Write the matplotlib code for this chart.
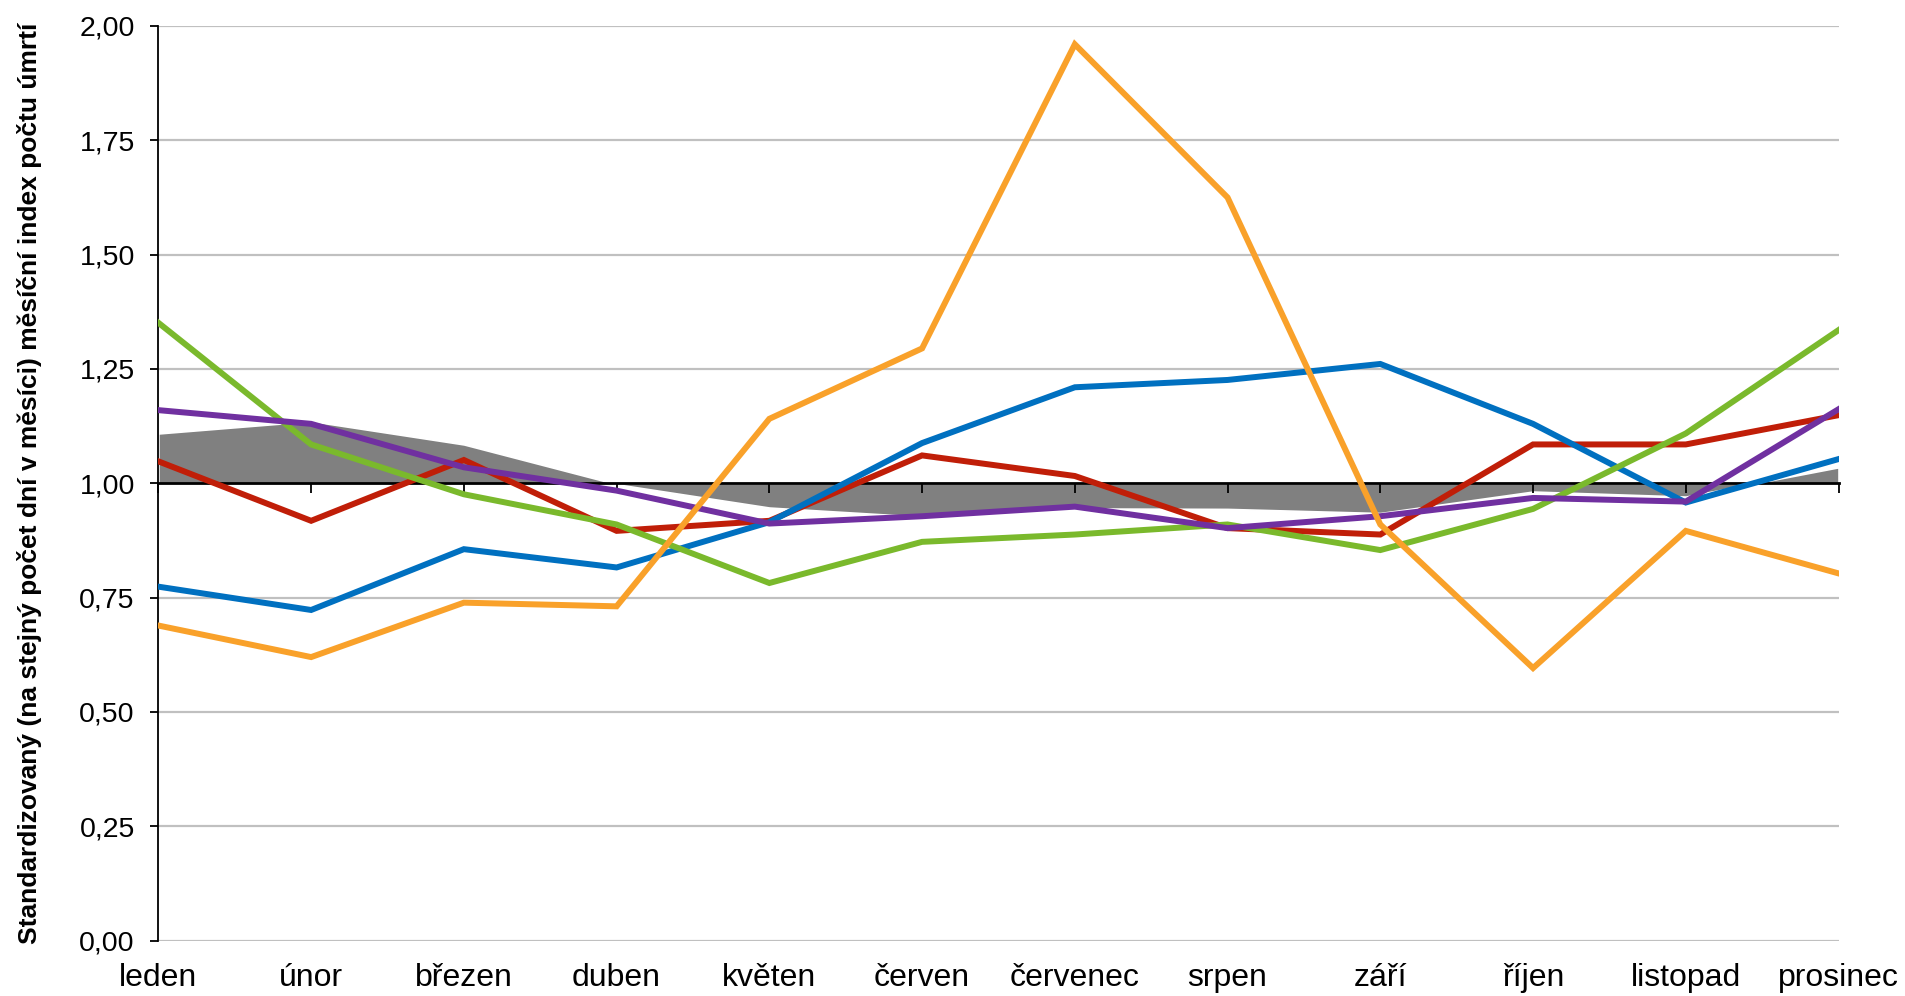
import matplotlib
matplotlib.use('Agg')

import matplotlib.pyplot as plt
import numpy as np

plt.rcParams['font.family'] = ['Liberation Sans', 'DejaVu Sans']

# Month labels (x categories)
months = ["leden", "únor", "březen", "duben", "květen", "červen",
          "červenec", "srpen", "září", "říjen", "listopad", "prosinec"]

# Grey area (reference series, filled against 1.00)
grey_area = [1.109, 1.136, 1.085, 0.998, 0.947, 0.927, 0.945, 0.944, 0.935, 0.982, 0.971, 1.035]

# Line series
red = [1.048, 0.918, 1.051, 0.896, 0.918, 1.061, 1.016, 0.902, 0.888, 1.085, 1.085, 1.149]
blue = [0.774, 0.723, 0.856, 0.816, 0.915, 1.088, 1.210, 1.226, 1.261, 1.130, 0.958, 1.053]
green = [1.351, 1.085, 0.976, 0.910, 0.782, 0.872, 0.888, 0.910, 0.854, 0.944, 1.109, 1.335]
purple = [1.160, 1.130, 1.035, 0.984, 0.912, 0.928, 0.949, 0.902, 0.928, 0.968, 0.960, 1.162]
orange = [0.689, 0.620, 0.739, 0.731, 1.141, 1.295, 1.960, 1.625, 0.910, 0.596, 0.896, 0.803]

y_ticks = [0.0, 0.25, 0.5, 0.75, 1.0, 1.25, 1.5, 1.75, 2.0]
y_label = "Standardizovaný (na stejný počet dní v měsíci) měsíční index počtu úmrtí"

fig = plt.figure(figsize=(19.06, 9.96), dpi=100)
ax = fig.add_axes([0.0831, 0.0556, 0.8815, 0.9183])

x = np.arange(len(months))

# Gridlines (skip 1.00, the crossing axis is drawn there)
for yv in y_ticks:
    if yv != 1.0:
        ax.axhline(yv, color='#c0c0c0', lw=1.6, zorder=0)

# Grey area between 1.00 and the reference series
ax.fill_between(x, 1.0, grey_area, color='#808080', edgecolor='white', lw=1.2, zorder=1)

# Lines, drawn in the order they stack
series = [(red, '#C01E08'), (blue, '#0070C0'), (green, '#7AB92C'),
          (purple, '#7030A0'), (orange, '#F9A12A')]
for i, (vals, col) in enumerate(series):
    ax.plot(x, vals, color=col, lw=4.3, solid_joinstyle='miter', zorder=3 + i)

ax.set_xlim(0, len(months) - 1)
ax.set_ylim(0, 2)

# Month labels at the bottom, no tick marks there
ax.set_xticks(x)
ax.set_xticklabels(months, fontsize=23)
ax.tick_params(axis='x', length=0, pad=16)

ax.set_yticks(y_ticks)
ax.set_yticklabels([f"{v:.2f}".replace('.', ',') for v in y_ticks], fontsize=20.5)
ax.tick_params(axis='y', direction='out', length=6, width=1.3, pad=11)

for side in ['top', 'right', 'bottom']:
    ax.spines[side].set_visible(False)
ax.spines['left'].set_linewidth(1.3)

# Category axis crossing at 1.00 with tick marks pointing down
sec = ax.secondary_xaxis(0.5)
sec.set_alignment('bottom')
sec.set_xticks(x)
sec.set_xticklabels([])
sec.tick_params(direction='out', length=7, width=1.3)
sec.spines['bottom'].set_linewidth(2)
sec.set_zorder(2)

ax.set_ylabel(y_label, fontsize=19, fontweight='bold')
ax.yaxis.set_label_coords(-0.069, 0.5)

fig.savefig('out.png', dpi=100)
